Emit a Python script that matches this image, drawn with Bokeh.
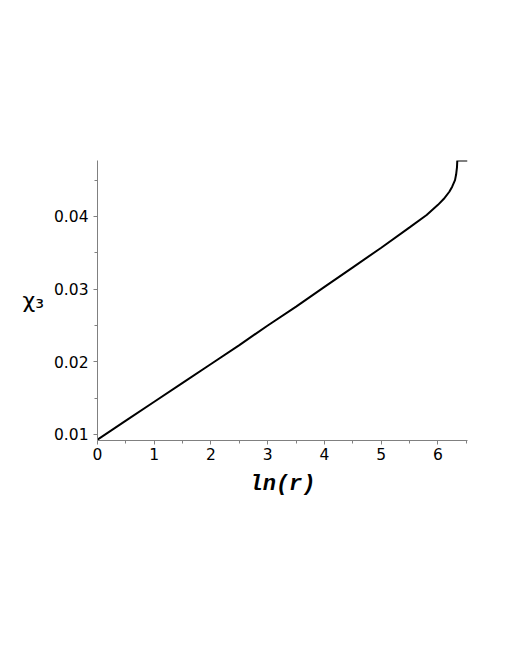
from bokeh.plotting import figure
from bokeh.models import Range1d, FixedTicker
from bokeh.embed import file_html
from bokeh.resources import INLINE

ln_r = [0.0, 0.5, 1.0, 1.5, 2.0, 2.5, 3.0, 3.5, 4.0, 4.5, 5.0, 5.5, 5.8, 6.0,
        6.1, 6.2, 6.25, 6.3, 6.32, 6.335, 6.34, 6.52]
chi3 = [0.0093, 0.0119, 0.0145, 0.0171, 0.0197, 0.0223, 0.0250, 0.0276, 0.0303,
        0.0330, 0.0357, 0.0385, 0.0402, 0.0416, 0.0424, 0.0434, 0.0441, 0.0450,
        0.0458, 0.0468, 0.0477, 0.0477]

x_ticks = [0, 1, 2, 3, 4, 5, 6]
x_minor = [0.5, 1.5, 2.5, 3.5, 4.5, 5.5, 6.5]
y_ticks = [0.01, 0.02, 0.03, 0.04]
y_minor = [0.015, 0.025, 0.035, 0.045]

p = figure(frame_width=370, frame_height=280, output_backend="svg",
           toolbar_location=None, x_range=Range1d(0, 6.52),
           y_range=Range1d(0.00917, 0.0477),
           min_border_left=97, min_border_right=30, min_border_top=160,
           min_border_bottom=198)
p.outline_line_color = None
p.xgrid.visible = False
p.ygrid.visible = False

p.line(ln_r, chi3, line_color="black", line_width=2)

for ax, t, m in ((p.xaxis[0], x_ticks, x_minor), (p.yaxis[0], y_ticks, y_minor)):
    ax.ticker = FixedTicker(ticks=t, minor_ticks=m)
    ax.axis_line_color = "#808080"
    ax.major_tick_line_color = "#808080"
    ax.minor_tick_line_color = "#808080"
    ax.major_tick_out = 4
    ax.major_tick_in = 0
    ax.minor_tick_out = 3
    ax.minor_tick_in = 0
    ax.major_label_text_font = "DejaVu Sans"
    ax.major_label_text_font_size = "15.5px"
    ax.major_label_text_color = "black"
p.xaxis.major_label_standoff = 3
p.yaxis.major_label_standoff = 5

p.xaxis.axis_label = "ln(r)"
p.xaxis.axis_label_text_font = "Liberation Mono"
p.xaxis.axis_label_text_font_style = "bold italic"
p.xaxis.axis_label_text_font_size = "22px"
p.xaxis.axis_label_text_color = "black"
p.xaxis.axis_label_standoff = 9

p.yaxis.axis_label = "χ₃"
p.yaxis.axis_label_orientation = "horizontal"
p.yaxis.axis_label_text_font = "DejaVu Sans"
p.yaxis.axis_label_text_font_style = "normal"
p.yaxis.axis_label_text_font_size = "22px"
p.yaxis.axis_label_text_color = "black"
p.yaxis.axis_label_standoff = 7

open("out.html", "w").write(file_html(p, INLINE))
